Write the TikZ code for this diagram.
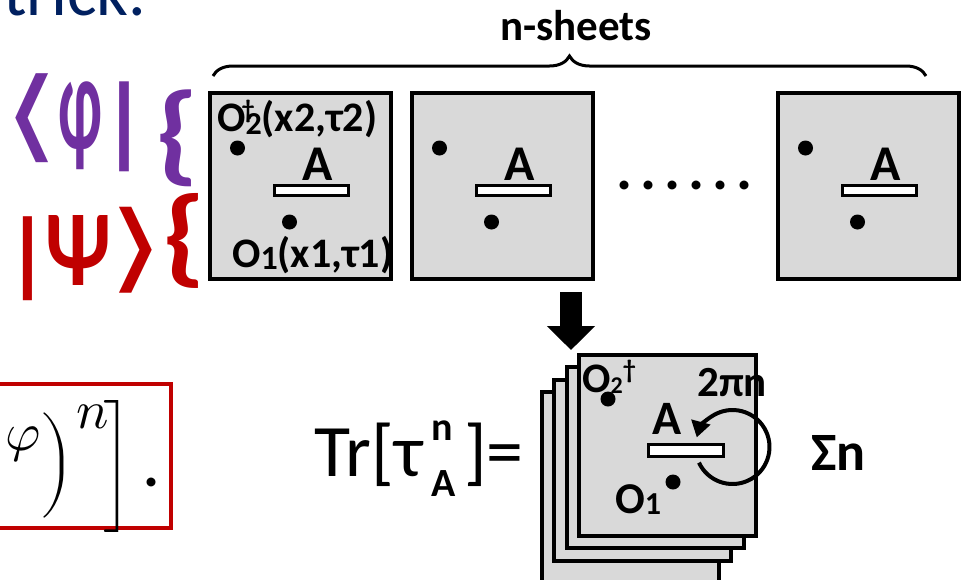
\documentclass[tikz,border=0pt]{standalone}
\usepackage{fontspec}
\usepackage{unicode-math}
\setmainfont{Carlito}
\setmathfont{Latin Modern Math}
\newfontfamily\symfont{DejaVu Sans}
\usetikzlibrary{positioning,arrows.meta,calc,decorations.pathreplacing}
\definecolor{sheetgray}{RGB}{217,217,217}
\definecolor{brapurple}{RGB}{112,48,160}
\definecolor{ketred}{RGB}{192,0,0}
\definecolor{slideblue}{RGB}{0,32,96}
\newcommand{\fsz}[1]{\fontsize{#1}{#1}\selectfont}
\newcommand{\tall}[2]{\resizebox*{!}{#1pt}{#2}}

\begin{document}
\begin{tikzpicture}[x=1pt, y=-1pt,
  sheet/.style={rectangle, draw, line width=4pt, fill=sheetgray,
    minimum width=181pt, minimum height=186pt, inner sep=0pt},
  cutbar/.style={rectangle, draw, line width=3pt, fill=white,
    minimum width=74pt, minimum height=10pt, inner sep=0pt},
  spot/.style={circle, fill=black, minimum size=15pt, inner sep=0pt},
  txt/.style={inner sep=0pt, anchor=base west},
  glyph/.style={inner sep=0pt, anchor=north, font=\fsz{100}\bfseries},
  alabel/.style={inner sep=0pt, anchor=south, font=\fsz{50}\bfseries}
]
\useasboundingbox (0,0) rectangle (966,579);

% title line, cut at the top
\node[txt, font=\fsz{70}, text=slideblue] (title) at (3,15) {trick.};

% bra and ket
\begin{scope}[text=brapurple]
  \node[glyph, font=\fsz{100}] (bra1) at (31.5,73) {\resizebox*{58pt}{89pt}{\symfont ⟨}};
  \node[glyph] (bra2) at (80,82) {\resizebox*{44pt}{88pt}{φ}};
  \node[glyph] (bra3) at (124.5,82) {\tall{90}{|}};
  \node[glyph] (brabrace) at (177.5,90) {\resizebox*{44pt}{97pt}{\{}};
\end{scope}
\begin{scope}[text=ketred]
  \node[glyph] (ket1) at (27.5,217) {\tall{84}{|}};
  \node[glyph] (ket2) at (78.5,215) {\resizebox*{66pt}{70pt}{Ψ}};
  \node[glyph, font=\fsz{100}] (ket3) at (136.5,207) {\resizebox*{58pt}{86pt}{\symfont ⟩}};
  \node[glyph] (ketbrace) at (184,193) {\resizebox*{44pt}{95pt}{\{}};
\end{scope}

% n sheets
\node[sheet] (s1) at (300.5,186) {};
\node[sheet, right=17pt of s1] (s2) {};
\node[sheet, right=181pt of s2] (s3) {};
\foreach \s in {s1,s2,s3} {
  \node[cutbar] (\s-bar) at ($(\s)+(11,4)$) {};
  \node[alabel, xshift=6pt] (\s-A) at ($(\s-bar.north)+(0,-3)$) {A};
  \node[spot] (\s-p2) at ($(\s)+(-63,-38)$) {};
  \node[spot] (\s-p1) at ($(\s)+(-11,36)$) {};
}
\node[txt, font=\fsz{42}\bfseries] (o2lbl) at (217,131)
  {O\rlap{\kern-4pt\raisebox{13pt}{\fsz{26}†}}\raisebox{-3pt}{\fsz{32}2}(x2,τ2)};
\node[txt, font=\fsz{42}\bfseries] (o1lbl) at (232,267)
  {O\raisebox{-2pt}{\fsz{34}1}(x1,τ1)};
\node[txt, font=\fsz{60}\bfseries] (gap) at (616,189)
  {.\kern8pt.\kern8pt.\kern8pt.\kern8pt.\kern8pt.};

\draw[decorate, decoration={brace, amplitude=20pt}, line width=3pt]
  (213,76) -- (926,76);
\node[inner sep=0pt, anchor=base, font=\fsz{43}\bfseries] (nsheets) at (576,40) {n-sheets};

% glued sheets
\coordinate (drop) at (571,292);
\coordinate (droptip) at (571,350);
\draw[line width=22pt, -{Triangle[width=47pt, length=24pt]}] (drop) -- (droptip);

\node[sheet, minimum width=177pt, minimum height=200pt] (f3) at (630.3,492) {};
\foreach \i in {2,1,0} {
  \node[sheet, minimum width=177pt, minimum height=181pt] (f\i)
    at ({667.5-12.4*\i},{445.5+12.4*\i}) {};
}
\node[spot] (fp2) at (608,399) {};
\node[spot] (fp1) at (673,482) {};
\coordinate (loopc) at (732.5,447);
\draw[line width=4pt, -{Triangle[width=19pt, length=16pt]}]
  ([shift={(155:37)}]loopc) arc[start angle=155, end angle=-165, radius=37];
\node[cutbar, minimum width=75pt, minimum height=12pt] (fbar) at (686,450.5) {};
\node[alabel, font=\fsz{48}\bfseries] (fA) at ($(fbar.north)+(-18.5,-8)$) {A};
\node[txt, font=\fsz{43}\bfseries] (turn) at (697,396) {2πn};
\node[txt, font=\fsz{42}\bfseries] (fo2) at (582,392)
  {O\raisebox{-1pt}{\fsz{24}2}\raisebox{14pt}{\fsz{26}†}};
\node[txt, font=\fsz{44}\bfseries] (fo1) at (615,513) {O\raisebox{-1pt}{\fsz{32}1}};

\node[txt, font=\fsz{74}] (tr) at (314,476)
  {Tr[τ\kern9pt\rlap{\raisebox{36pt}{\fsz{40}\bfseries n}}\raisebox{-20pt}{\fsz{40}\bfseries A}\kern8pt]=};
\node[txt, font=\fsz{54}\bfseries] (sum) at (811,470) {Σn};

% boxed formula, cut at the left
\node[draw=ketred, line width=4pt, minimum width=200pt, minimum height=144pt,
  inner sep=0pt] (rbox) at (71,456) {};
\node[txt, font=\fsz{54}] (mphi) at (5,450) {$\varphi$};
\node[inner sep=0pt, font=\fsz{44}] (mpar) at (58,465) {$\bigg)$};
\node[txt, font=\fsz{54}] (mexp) at (76,428) {$n$};
\node[inner sep=0pt, font=\fsz{44}\boldmath] (mbrk) at (118.5,466) {$\Bigg]$};
\node[txt, font=\fsz{60}\bfseries] (mdot) at (143,486) {.};
\end{tikzpicture}
\end{document}
